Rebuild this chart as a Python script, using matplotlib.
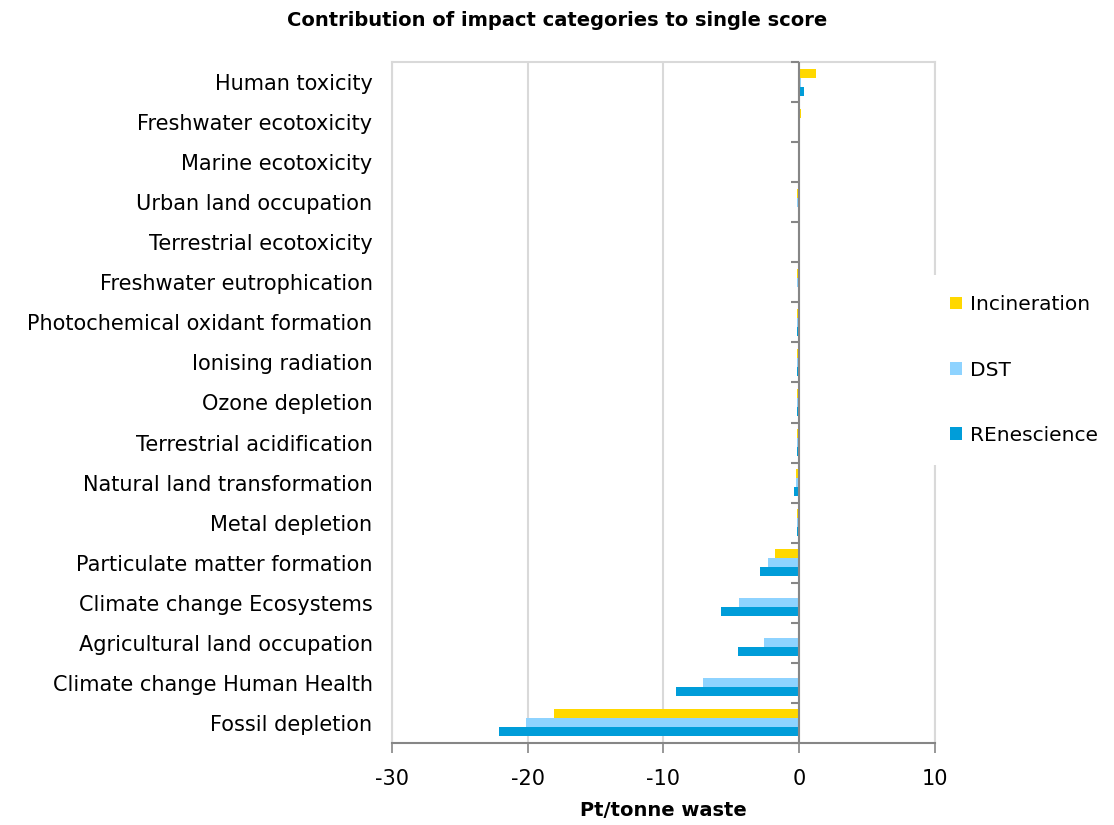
import numpy as np
import matplotlib
matplotlib.use("Agg")
import matplotlib.pyplot as plt

# categories top to bottom, values in Pt/tonne waste
categories = [
    "Human toxicity",
    "Freshwater ecotoxicity",
    "Marine ecotoxicity",
    "Urban land occupation",
    "Terrestrial ecotoxicity",
    "Freshwater eutrophication",
    "Photochemical oxidant formation",
    "Ionising radiation",
    "Ozone depletion",
    "Terrestrial acidification",
    "Natural land transformation",
    "Metal depletion",
    "Particulate matter formation",
    "Climate change Ecosystems",
    "Agricultural land occupation",
    "Climate change Human Health",
    "Fossil depletion",
]
incineration = [1.25, 0.15, 0.02, -0.2, 0.02, -0.2, -0.15, -0.15, -0.15, -0.15, -0.25, -0.15,
                -1.8, -0.05, -0.1, -0.05, -18.05]
dst = [0.1, 0.02, 0.0, -0.2, 0.0, -0.2, -0.15, -0.15, -0.15, -0.15, -0.25, -0.15,
       -2.3, -4.45, -2.6, -7.1, -20.1]
renescience = [0.35, 0.02, 0.0, -0.02, 0.0, -0.02, -0.2, -0.2, -0.2, -0.2, -0.4, -0.15,
               -2.9, -5.8, -4.5, -9.1, -22.1]

series = ["Incineration", "DST", "REnescience"]
colors = ["#FFD800", "#8ED3FF", "#009DD9"]
xticks = [-30, -20, -10, 0, 10]

plt.rcParams['font.family'] = ['DejaVu Sans']

fig = plt.figure(figsize=(11.14, 8.25), dpi=100)
ax = fig.add_axes([392/1114, 1 - 743/825, (935 - 392)/1114, (743 - 62)/825])

y = np.arange(len(categories))
h = 0.225
for k, (vals, name, col) in enumerate(zip([incineration, dst, renescience], series, colors)):
    ax.barh(y + (k - 1) * h, vals, height=h, color=col, label=name, zorder=3)

ax.set_ylim(len(categories) - 0.5, -0.5)
ax.set_xlim(-30, 10)
ax.set_xticks(xticks)
ax.set_xticklabels([str(t) for t in xticks], fontsize=15)
ax.set_yticks(y)
ax.set_yticklabels(categories, fontsize=15)
ax.tick_params(axis='y', length=0, pad=14)
ax.tick_params(axis='x', length=7, width=1.2, color="#868686", pad=12)

ax.grid(axis='x', color="#D9D9D9", linewidth=1.5, zorder=0)
for s in ["top", "left", "right"]:
    ax.spines[s].set_color("#D9D9D9")
    ax.spines[s].set_linewidth(1.5)
ax.spines["bottom"].set_color("#868686")
ax.spines["bottom"].set_linewidth(1.5)

# vertical category axis at zero with boundary ticks
ax.axvline(0, color="#868686", linewidth=1.5, zorder=4)
bounds = np.arange(len(categories) + 1) - 0.5
ax.hlines(bounds, -0.6, 0, color="#868686", linewidth=1.5, zorder=4, clip_on=False)

ax.set_xlabel("Pt/tonne waste", fontsize=14, fontweight="bold", labelpad=8)
fig.text(0.5, 1 - 20/825, "Contribution of impact categories to single score",
         ha="center", va="center", fontsize=14, fontweight="bold")

leg = ax.legend(loc="center left", bbox_to_anchor=(930/1114, 1 - 370/825),
                bbox_transform=fig.transFigure, borderaxespad=0, fontsize=14.5,
                frameon=True, fancybox=False, edgecolor="none", facecolor="white",
                framealpha=1, labelspacing=2.3, borderpad=1.0,
                handlelength=0.6, handleheight=0.6, handletextpad=0.4)

fig.savefig("out.png", dpi=100)
